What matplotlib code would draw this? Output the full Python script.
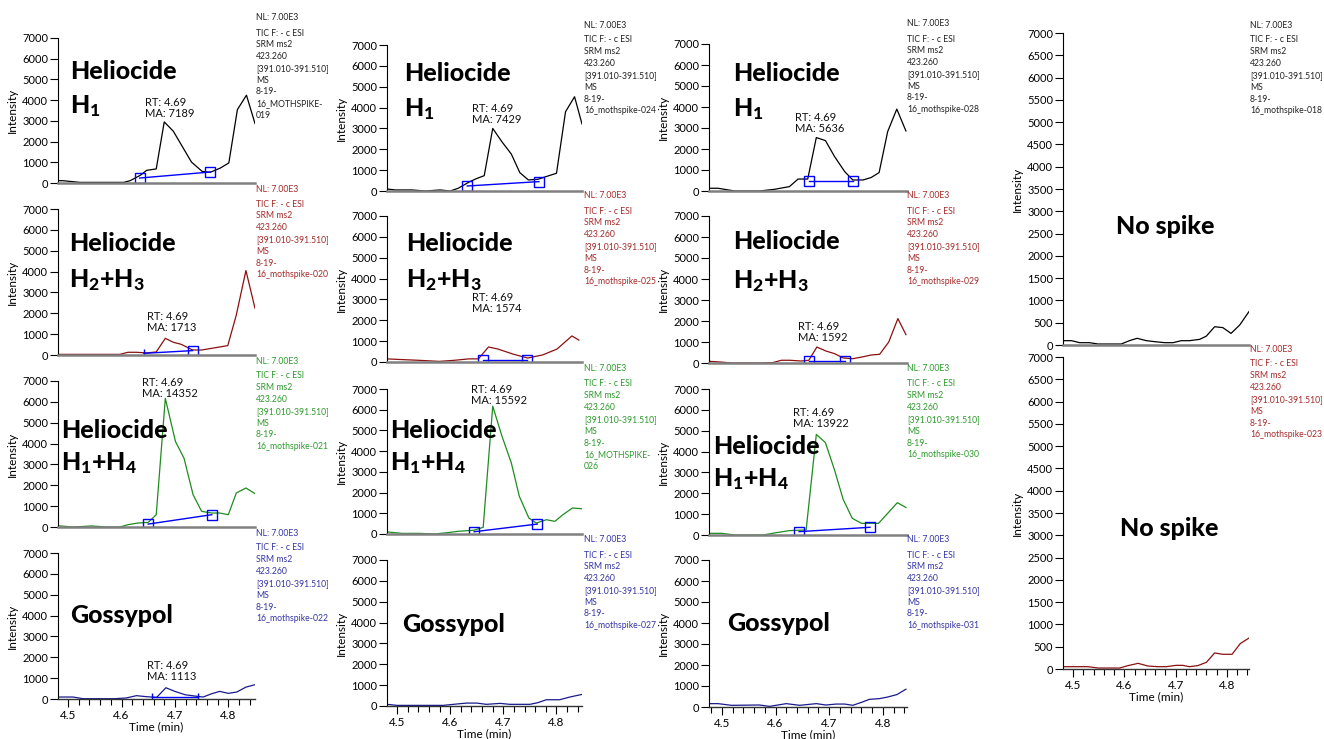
import matplotlib
matplotlib.use('Agg')
import matplotlib.pyplot as plt
from matplotlib.ticker import MultipleLocator, FormatStrFormatter

plt.rcParams['font.family'] = ['Lato', 'DejaVu Sans']
plt.rcParams['mathtext.fontset'] = 'custom'
plt.rcParams['mathtext.rm'] = 'Lato:black'
plt.rcParams['mathtext.it'] = 'Lato:black'
plt.rcParams['mathtext.bf'] = 'Lato:black'

# ---------------- data (time in min, intensity) ----------------
t_c1r1 = [4.481, 4.491, 4.522, 4.553, 4.604, 4.616, 4.635, 4.647, 4.665, 4.680, 4.697, 4.731, 4.751, 4.766, 4.785, 4.801, 4.817, 4.834, 4.850]
i_c1r1 = [113, 110, 30, 30, 30, 110, 370, 610, 680, 2950, 2500, 1010, 560, 515, 720, 970, 3540, 4240, 2870]
bt_c1r1 = [4.634, 4.766]; bi_c1r1 = [240, 530]

t_c2r1 = [4.481, 4.497, 4.528, 4.553, 4.581, 4.600, 4.615, 4.637, 4.650, 4.664, 4.680, 4.697, 4.715, 4.731, 4.747, 4.765, 4.784, 4.800, 4.817, 4.834, 4.848]
i_c2r1 = [96, 50, 50, 0, 50, 0, 130, 450, 600, 735, 3000, 2370, 1770, 880, 530, 560, 720, 850, 3800, 4520, 3210]
bt_c2r1 = [4.632, 4.767]; bi_c2r1 = [240, 450]

t_c3r1 = [4.476, 4.493, 4.524, 4.570, 4.598, 4.626, 4.642, 4.660, 4.676, 4.693, 4.710, 4.729, 4.744, 4.763, 4.778, 4.793, 4.809, 4.826, 4.843]
i_c3r1 = [130, 130, 0, 0, 80, 210, 570, 570, 2545, 2400, 1640, 920, 525, 525, 640, 875, 2830, 3900, 2860]
bt_c3r1 = [4.662, 4.745]; bi_c3r1 = [480, 480]

t_c1r2 = [4.481, 4.597, 4.612, 4.628, 4.647, 4.665, 4.682, 4.697, 4.712, 4.733, 4.750, 4.769, 4.799, 4.815, 4.833, 4.850]
i_c1r2 = [30, 30, 130, 130, 100, 145, 800, 610, 510, 240, 240, 320, 450, 1920, 4050, 2240]
bt_c1r2 = [4.642, 4.733]; bi_c1r2 = [80, 210]

t_c2r2 = [4.481, 4.505, 4.542, 4.579, 4.607, 4.635, 4.653, 4.672, 4.690, 4.718, 4.746, 4.774, 4.801, 4.829, 4.842]
i_c2r2 = [150, 120, 80, 30, 80, 150, 150, 720, 620, 380, 190, 340, 620, 1250, 1050]
bt_c2r2 = [4.661, 4.744]; bi_c2r2 = [100, 100]

t_c3r2 = [4.476, 4.496, 4.518, 4.570, 4.595, 4.611, 4.626, 4.648, 4.662, 4.677, 4.694, 4.710, 4.726, 4.744, 4.762, 4.778, 4.794, 4.811, 4.828, 4.843]
i_c3r2 = [80, 50, 0, 0, 20, 130, 130, 95, 130, 760, 570, 445, 240, 205, 290, 380, 415, 1000, 2115, 1350]
bt_c3r2 = [4.662, 4.730]; bi_c3r2 = [80, 80]

t_c1r3 = [4.481, 4.509, 4.544, 4.572, 4.597, 4.612, 4.631, 4.650, 4.665, 4.682, 4.701, 4.717, 4.734, 4.750, 4.769, 4.784, 4.800, 4.815, 4.833, 4.850]
i_c1r3 = [60, 0, 50, 0, 0, 110, 190, 220, 590, 6170, 4100, 3300, 1550, 750, 670, 670, 590, 1630, 1870, 1600]
bt_c1r3 = [4.650, 4.769]; bi_c1r3 = [140, 590]

t_c2r3 = [4.481, 4.509, 4.543, 4.569, 4.590, 4.615, 4.644, 4.662, 4.680, 4.697, 4.715, 4.730, 4.748, 4.762, 4.781, 4.797, 4.812, 4.830, 4.848]
i_c2r3 = [100, 30, 30, 0, 50, 130, 180, 320, 6170, 4750, 3430, 1820, 770, 530, 690, 610, 930, 1255, 1220]
bt_c2r3 = [4.645, 4.764]; bi_c2r3 = [110, 480]

t_c3r3 = [4.476, 4.499, 4.524, 4.577, 4.601, 4.626, 4.657, 4.676, 4.693, 4.710, 4.726, 4.743, 4.760, 4.775, 4.792, 4.809, 4.827, 4.843]
i_c3r3 = [80, 80, 0, 0, 110, 210, 240, 4820, 4430, 3110, 1710, 800, 560, 560, 560, 1040, 1550, 1320]
bt_c3r3 = [4.644, 4.776]; bi_c3r3 = [160, 370]

t_c1r4 = [4.481, 4.509, 4.528, 4.587, 4.609, 4.628, 4.647, 4.666, 4.683, 4.700, 4.719, 4.741, 4.753, 4.769, 4.784, 4.800, 4.816, 4.833, 4.850]
i_c1r4 = [95, 95, 15, 15, 50, 160, 110, 80, 540, 365, 205, 130, 95, 255, 365, 270, 335, 570, 685]
bt_c1r4 = [4.658, 4.744]; bi_c1r4 = [80, 80]

t_c2r4 = [4.481, 4.500, 4.587, 4.612, 4.631, 4.650, 4.668, 4.694, 4.712, 4.750, 4.765, 4.781, 4.806, 4.825, 4.848]
i_c2r4 = [80, 30, 30, 95, 140, 140, 80, 125, 80, 80, 160, 300, 300, 430, 555]

t_c3r4 = [4.476, 4.493, 4.518, 4.570, 4.589, 4.620, 4.645, 4.676, 4.694, 4.713, 4.729, 4.744, 4.760, 4.775, 4.794, 4.809, 4.826, 4.843]
i_c3r4 = [160, 160, 80, 95, 30, 160, 80, 160, 95, 140, 140, 80, 220, 365, 400, 475, 590, 845]

t_c4r1 = [4.481, 4.497, 4.513, 4.532, 4.549, 4.594, 4.610, 4.625, 4.643, 4.659, 4.679, 4.695, 4.711, 4.727, 4.747, 4.760, 4.776, 4.792, 4.808, 4.825, 4.843]
i_c4r1 = [97, 97, 52, 52, 22, 22, 97, 150, 97, 75, 52, 52, 97, 97, 127, 200, 410, 390, 260, 450, 750]

t_c4r2 = [4.481, 4.529, 4.549, 4.591, 4.607, 4.627, 4.646, 4.665, 4.682, 4.701, 4.714, 4.727, 4.743, 4.760, 4.776, 4.792, 4.810, 4.826, 4.843]
i_c4r2 = [52, 52, 22, 22, 75, 127, 67, 52, 52, 82, 82, 52, 75, 150, 360, 330, 330, 570, 695]

file_ids = {
    (0, 0): ['8-19-', '16_MOTHSPIKE-', '019'],
    (0, 1): ['8-19-', '16_mothspike-020'],
    (0, 2): ['8-19-', '16_mothspike-021'],
    (0, 3): ['8-19-', '16_mothspike-022'],
    (1, 0): ['8-19-', '16_mothspike-024'],
    (1, 1): ['8-19-', '16_mothspike-025'],
    (1, 2): ['8-19-', '16_MOTHSPIKE-', '026'],
    (1, 3): ['8-19-', '16_mothspike-027'],
    (2, 0): ['8-19-', '16_mothspike-028'],
    (2, 1): ['8-19-', '16_mothspike-029'],
    (2, 2): ['8-19-', '16_mothspike-030'],
    (2, 3): ['8-19-', '16_mothspike-031'],
    (3, 0): ['8-19-', '16_mothspike-018'],
    (3, 1): ['8-19-', '16_mothspike-023'],
}
header_lines = ['TIC F: - c ESI', 'SRM ms2', '423.260', '[391.010-391.510]', 'MS']
nl_text = 'NL: 7.00E3'

rt_labels = {
    (0, 0): 'RT: 4.69\nMA: 7189', (1, 0): 'RT: 4.69\nMA: 7429', (2, 0): 'RT: 4.69\nMA: 5636',
    (0, 1): 'RT: 4.69\nMA: 1713', (1, 1): 'RT: 4.69\nMA: 1574', (2, 1): 'RT: 4.69\nMA: 1592',
    (0, 2): 'RT: 4.69\nMA: 14352', (1, 2): 'RT: 4.69\nMA: 15592', (2, 2): 'RT: 4.69\nMA: 13922',
    (0, 3): 'RT: 4.69\nMA: 1113',
}

big_labels = {
    0: ['Heliocide', 'H$_1$'],
    1: ['Heliocide', 'H$_2$+H$_3$'],
    2: ['Heliocide', 'H$_1$+H$_4$'],
    3: ['Gossypol'],
    'ns': ['No spike'],
}

# ---------------- styling / layout (pixels) ----------------
W, H = 1324, 739
row_colors = ['#000000', '#8b1010', '#1e8c1e', '#1a1a8c']
text_colors = ['#222222', '#a52a2a', '#2e9a2e', '#3535a5']
col4_colors = ['#000000', '#8b1010']
col4_text = ['#222222', '#a52a2a']

col_x = [(58, 255), (387, 582), (709, 907), (1063, 1249)]
col_xlim = [(4.481, 4.850), (4.481, 4.848), (4.476, 4.845), (4.4805, 4.843)]
col_rows = [
    [(38, 183), (209, 355), (381, 527), (553, 699)],
    [(45, 191), (216, 362), (389, 534), (560, 706)],
    [(44, 191), (216, 363), (389, 535), (560, 707)],
    [(33, 345), (357, 669)],
]
text_x = [256, 584, 907, 1250]

big_pos = {
    (0, 0): (70, 79, 113), (1, 0): (404, 81, 116), (2, 0): (733, 81, 116),
    (0, 1): (69, 251, 287), (1, 1): (406, 251, 287), (2, 1): (733, 249, 288),
    (0, 2): (61, 438, 470), (1, 2): (390, 438, 470), (2, 2): (713, 454, 486),
    (0, 3): (70, 623, None), (1, 3): (402, 632, None), (2, 3): (727, 631, None),
    (3, 0): (1116, 234, None), (3, 1): (1120, 536, None),
}
rt_pos = {
    (0, 0): (145, 97), (1, 0): (472, 103), (2, 0): (795, 112),
    (0, 1): (147, 311), (1, 1): (472, 292), (2, 1): (798, 321),
    (0, 2): (142, 377), (1, 2): (471, 384), (2, 2): (793, 407),
    (0, 3): (147, 660),
}

series = {
    (0, 0): (t_c1r1, i_c1r1, bt_c1r1, bi_c1r1, ('s', 's')),
    (1, 0): (t_c2r1, i_c2r1, bt_c2r1, bi_c2r1, ('s', 's')),
    (2, 0): (t_c3r1, i_c3r1, bt_c3r1, bi_c3r1, ('s', 's')),
    (0, 1): (t_c1r2, i_c1r2, bt_c1r2, bi_c1r2, ('|', 's')),
    (1, 1): (t_c2r2, i_c2r2, bt_c2r2, bi_c2r2, ('s', 's')),
    (2, 1): (t_c3r2, i_c3r2, bt_c3r2, bi_c3r2, ('s', 's')),
    (0, 2): (t_c1r3, i_c1r3, bt_c1r3, bi_c1r3, ('s', 's')),
    (1, 2): (t_c2r3, i_c2r3, bt_c2r3, bi_c2r3, ('s', 's')),
    (2, 2): (t_c3r3, i_c3r3, bt_c3r3, bi_c3r3, ('s', 's')),
    (0, 3): (t_c1r4, i_c1r4, bt_c1r4, bi_c1r4, ('|', '|')),
    (1, 3): (t_c2r4, i_c2r4, None, None, None),
    (2, 3): (t_c3r4, i_c3r4, None, None, None),
    (3, 0): (t_c4r1, i_c4r1, None, None, None),
    (3, 1): (t_c4r2, i_c4r2, None, None, None),
}

fig = plt.figure(figsize=(W / 100, H / 100), dpi=100)


def fx(x):
    return x / W


def fy(y):
    return 1 - y / H


for (c, r), (t, inten, bt, bi, mk) in series.items():
    x0, x1 = col_x[c]
    top, bot = col_rows[c][r]
    ax = fig.add_axes([fx(x0), fy(bot), (x1 - x0) / W, (bot - top) / H])
    if c == 3:
        lc, tc = col4_colors[r], col4_text[r]
        bottom_row = (r == 1)
        ystep = 500
    else:
        lc, tc = row_colors[r], text_colors[r]
        bottom_row = (r == 3)
        ystep = 1000
    ax.plot(t, inten, color=lc, lw=0.9)
    if bt is not None:
        ax.plot(bt, bi, color='#0000ff', lw=1.0)
        for k in range(2):
            if mk[k] == 's':
                ax.plot(bt[k], bi[k], marker='s', ms=6.5, mfc='none', mec='#0000ff', mew=1.0)
            else:
                ax.plot(bt[k], bi[k], marker='|', ms=6, mec='#0000ff', mew=1.0)
    ax.set_xlim(*col_xlim[c])
    ax.set_ylim(0, 7000)
    ax.yaxis.set_major_locator(MultipleLocator(ystep))
    ax.spines['top'].set_visible(False)
    ax.spines['right'].set_visible(False)
    ax.spines['left'].set_linewidth(0.8)
    ax.tick_params(axis='y', direction='out', length=6, width=0.8, labelsize=8, pad=1)
    ax.set_ylabel('Intensity', fontsize=8.5, labelpad=0)
    ax.yaxis.set_label_coords(-40 / (x1 - x0), 0.5)
    if bottom_row:
        ax.spines['bottom'].set_color('#333333')
        ax.spines['bottom'].set_linewidth(1.0)
        ax.xaxis.set_major_locator(MultipleLocator(0.1))
        ax.xaxis.set_minor_locator(MultipleLocator(0.02))
        ax.xaxis.set_major_formatter(FormatStrFormatter('%.1f'))
        ax.tick_params(axis='x', which='major', direction='out', length=6, width=0.8, labelsize=8.5, pad=2)
        ax.tick_params(axis='x', which='minor', direction='out', length=4, width=0.8)
        ax.set_xlabel('Time (min)', fontsize=8.5, labelpad=0)
    else:
        ax.spines['bottom'].set_color('#808080')
        ax.spines['bottom'].set_linewidth(1.8)
        ax.tick_params(axis='x', which='both', bottom=False, labelbottom=False)

    # info text block
    tx = text_x[c]
    if c == 3:
        nl_y, first_y = top - 7, top + 7
    else:
        nl_y, first_y = top - 20, top - 5
    fig.text(fx(tx), fy(nl_y), nl_text, fontsize=6.2, color=tc, va='center', ha='left')
    for k, line in enumerate(header_lines + file_ids[(c, r)]):
        fig.text(fx(tx), fy(first_y + 11.8 * k), line, fontsize=6.2, color=tc, va='center', ha='left')

    # big labels
    bx, by1, by2 = big_pos[(c, r)]
    lbl = big_labels['ns'] if c == 3 else big_labels[r]
    fig.text(fx(bx), fy(by1), lbl[0], fontsize=18, fontweight='black', va='baseline', ha='left')
    if by2 is not None:
        fig.text(fx(bx), fy(by2), lbl[1], fontsize=18, fontweight='black', va='baseline', ha='left')

    # RT / MA annotation
    if (c, r) in rt_labels:
        rx, ry = rt_pos[(c, r)]
        fig.text(fx(rx), fy(ry), rt_labels[(c, r)], fontsize=8, va='top', ha='left',
                 linespacing=1.05, color='#111111')

fig.savefig('out.png', dpi=100)
